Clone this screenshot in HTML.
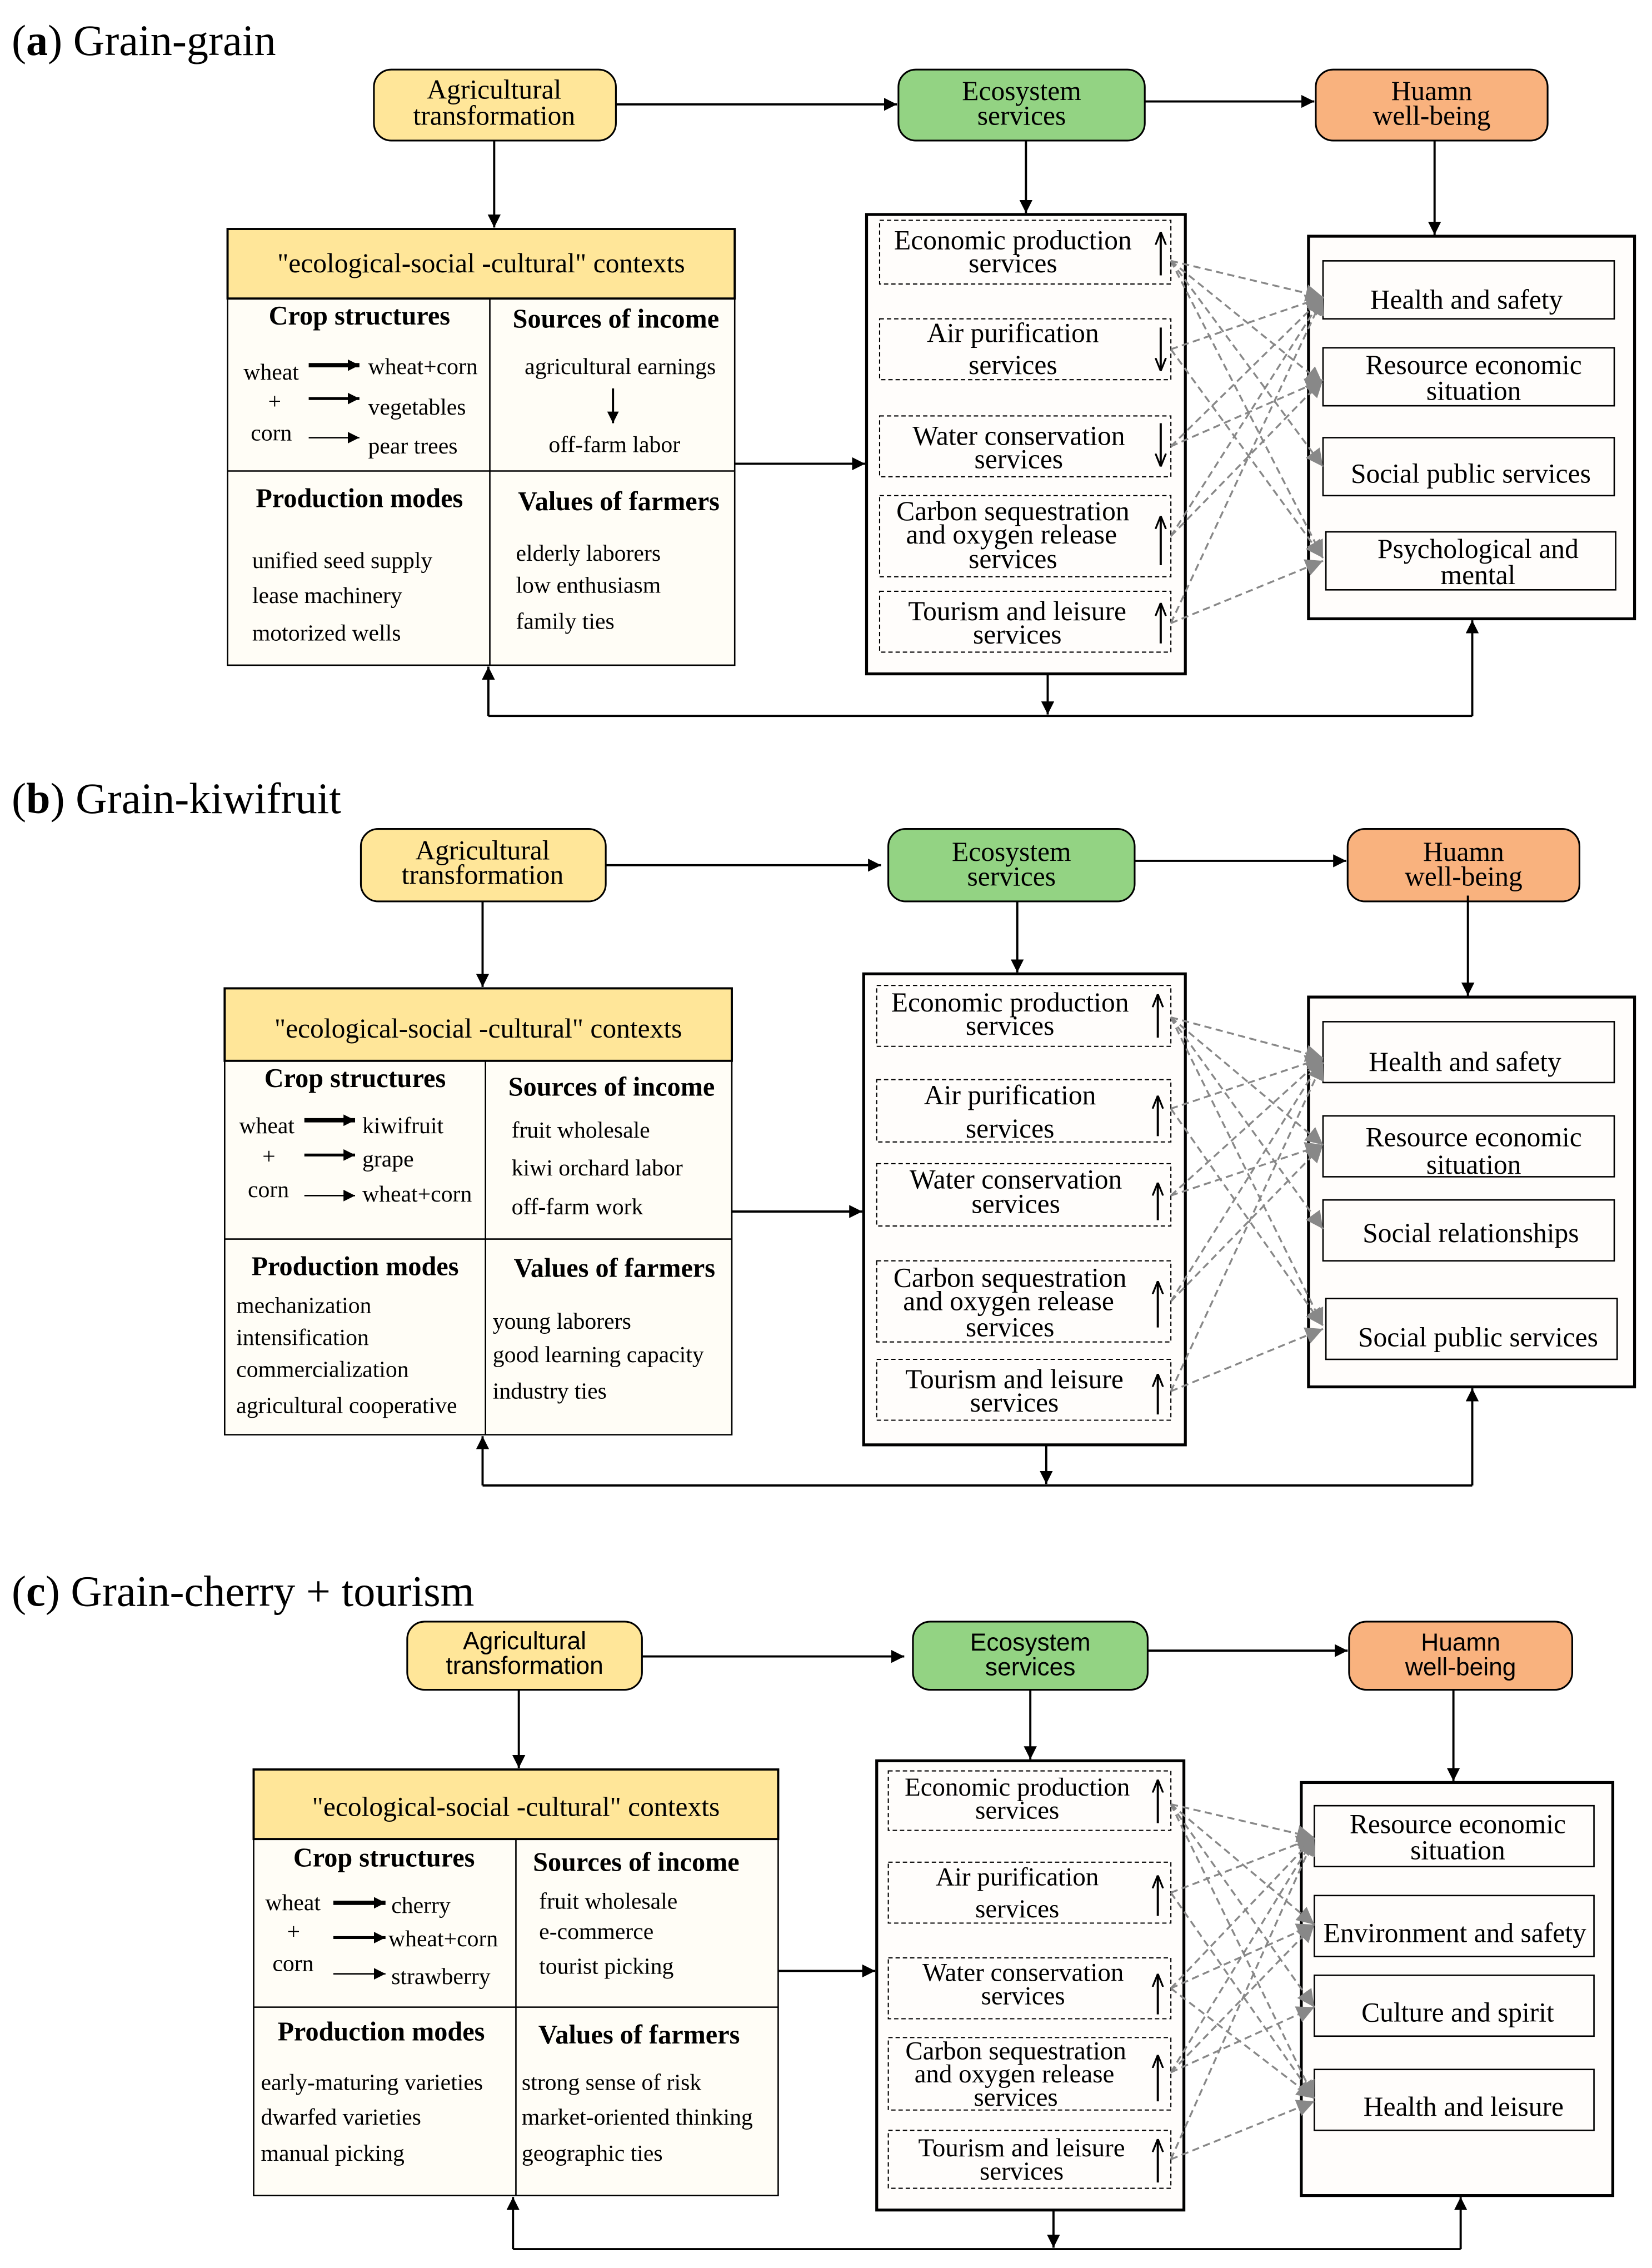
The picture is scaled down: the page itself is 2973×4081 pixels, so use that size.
<!DOCTYPE html>
<html><head><meta charset="utf-8">
<style>
html,body{margin:0;padding:0;background:#fff;}
svg{display:block;}
text{font-family:"Liberation Serif",serif;fill:#000;}
.s{font-family:"Liberation Sans",sans-serif;}
.b{font-weight:bold;}
</style></head><body>
<svg width="2973" height="4081" viewBox="0 0 1140 1565" xmlns="http://www.w3.org/2000/svg">
<defs>
<marker id="ah" viewBox="0 0 10 10" refX="10" refY="5" markerWidth="9" markerHeight="9" markerUnits="userSpaceOnUse" orient="auto"><path d="M0,0L10,5L0,10z" fill="#000"/></marker>
<marker id="as" viewBox="0 0 10 10" refX="10" refY="5" markerWidth="8" markerHeight="8" markerUnits="userSpaceOnUse" orient="auto"><path d="M0,0L10,5L0,10z" fill="#000"/></marker>
<marker id="ag" viewBox="0 0 10 10" refX="10" refY="5" markerWidth="12" markerHeight="12" markerUnits="userSpaceOnUse" orient="auto"><path d="M0,0L10,5L0,10z" fill="#888"/></marker>
<marker id="au" viewBox="0 0 10 10" refX="10" refY="5" markerWidth="9" markerHeight="9" markerUnits="userSpaceOnUse" orient="auto"><path d="M0,1L10,5L0,9" fill="none" stroke="#000" stroke-width="1.4"/></marker>
</defs>
<g stroke="#000" fill="none">

<!-- ============ PANEL A ============ -->
<rect x="258" y="48" width="167" height="49" rx="12" fill="#FFE699" stroke-width="1.2"/>
<rect x="620" y="48" width="170" height="49" rx="12" fill="#93D383" stroke-width="1.2"/>
<rect x="908" y="48" width="160" height="49" rx="12" fill="#F9B27E" stroke-width="1.2"/>
<line x1="425" y1="72" x2="619" y2="72" stroke-width="1.5" marker-end="url(#ah)"/>
<line x1="790" y1="70" x2="907" y2="70" stroke-width="1.5" marker-end="url(#ah)"/>
<line x1="341" y1="97" x2="341" y2="157" stroke-width="1.5" marker-end="url(#ah)"/>
<line x1="708" y1="97" x2="708" y2="147" stroke-width="1.5" marker-end="url(#ah)"/>
<line x1="990" y1="97" x2="990" y2="162" stroke-width="1.5" marker-end="url(#ah)"/>
<rect x="157" y="206" width="350" height="253" fill="#FFFDF6" stroke-width="1"/>
<rect x="157" y="158" width="350" height="48" fill="#FFE699" stroke-width="1.5"/>
<line x1="338" y1="206" x2="338" y2="459"/><line x1="157" y1="325" x2="507" y2="325"/>
<line x1="213" y1="252" x2="248" y2="252" stroke-width="3" marker-end="url(#as)"/>
<line x1="213" y1="275" x2="248" y2="275" stroke-width="2" marker-end="url(#as)"/>
<line x1="213" y1="302" x2="248" y2="302" stroke-width="1" marker-end="url(#as)"/>
<line x1="423" y1="268" x2="423" y2="292" stroke-width="1.5" marker-end="url(#as)"/>
<line x1="507" y1="320" x2="597" y2="320" stroke-width="1.5" marker-end="url(#ah)"/>
<rect x="598" y="148" width="220" height="317" fill="#FFFDFB" stroke-width="2"/>
<g stroke-dasharray="3 2" stroke-width="0.8">
<rect x="607" y="152" width="201" height="44"/><rect x="607" y="220" width="201" height="42"/><rect x="607" y="287" width="201" height="42"/><rect x="607" y="342" width="201" height="56"/><rect x="607" y="408" width="201" height="42"/>
</g>
<rect x="903" y="163" width="225" height="264" fill="#FFFDFB" stroke-width="2"/>
<g stroke-width="1" fill="#FFFDFB">
<rect x="913" y="180" width="201" height="40"/><rect x="913" y="240" width="201" height="40"/><rect x="913" y="302" width="201" height="40"/><rect x="915" y="367" width="200" height="40"/>
</g>
<g stroke="#888" stroke-width="1.3" stroke-dasharray="5 3" marker-end="url(#ag)">
<line x1="808" y1="180" x2="913" y2="205"/><line x1="808" y1="180" x2="913" y2="265"/><line x1="808" y1="180" x2="913" y2="322"/><line x1="808" y1="180" x2="913" y2="385"/>
<line x1="808" y1="241" x2="913" y2="205"/><line x1="808" y1="241" x2="913" y2="385"/>
<line x1="808" y1="308" x2="913" y2="205"/><line x1="808" y1="308" x2="913" y2="262"/>
<line x1="808" y1="370" x2="913" y2="205"/><line x1="808" y1="370" x2="913" y2="262"/>
<line x1="808" y1="430" x2="913" y2="205"/><line x1="808" y1="430" x2="913" y2="387"/>
</g>
<polyline points="337,494 1016,494" stroke-width="1.5"/>
<line x1="337" y1="494" x2="337" y2="460" stroke-width="1.5" marker-end="url(#ah)"/>
<line x1="1016" y1="494" x2="1016" y2="428" stroke-width="1.5" marker-end="url(#ah)"/>
<line x1="723" y1="465" x2="723" y2="493" stroke-width="1.5" marker-end="url(#ah)"/>

<!-- ============ PANEL B ============ -->
<rect x="249" y="572" width="169" height="50" rx="12" fill="#FFE699" stroke-width="1.2"/>
<rect x="613" y="572" width="170" height="50" rx="12" fill="#93D383" stroke-width="1.2"/>
<rect x="930" y="572" width="160" height="50" rx="12" fill="#F9B27E" stroke-width="1.2"/>
<line x1="418" y1="597" x2="608" y2="597" stroke-width="1.5" marker-end="url(#ah)"/>
<line x1="783" y1="594" x2="929" y2="594" stroke-width="1.5" marker-end="url(#ah)"/>
<line x1="333" y1="622" x2="333" y2="681" stroke-width="1.5" marker-end="url(#ah)"/>
<line x1="702" y1="622" x2="702" y2="671" stroke-width="1.5" marker-end="url(#ah)"/>
<line x1="1013" y1="618" x2="1013" y2="687" stroke-width="1.5" marker-end="url(#ah)"/>
<rect x="155" y="732" width="350" height="258" fill="#FFFDF6" stroke-width="1"/>
<rect x="155" y="682" width="350" height="50" fill="#FFE699" stroke-width="1.5"/>
<line x1="335" y1="732" x2="335" y2="990"/><line x1="155" y1="855" x2="505" y2="855"/>
<line x1="210" y1="773" x2="245" y2="773" stroke-width="3" marker-end="url(#as)"/>
<line x1="210" y1="797" x2="245" y2="797" stroke-width="2" marker-end="url(#as)"/>
<line x1="210" y1="825" x2="245" y2="825" stroke-width="1" marker-end="url(#as)"/>
<line x1="505" y1="836" x2="595" y2="836" stroke-width="1.5" marker-end="url(#ah)"/>
<rect x="596" y="672" width="222" height="325" fill="#FFFDFB" stroke-width="2"/>
<g stroke-dasharray="3 2" stroke-width="0.8">
<rect x="605" y="680" width="203" height="42"/><rect x="605" y="745" width="203" height="43"/><rect x="605" y="803" width="203" height="43"/><rect x="605" y="870" width="203" height="56"/><rect x="605" y="938" width="203" height="42"/>
</g>
<rect x="903" y="688" width="225" height="269" fill="#FFFDFB" stroke-width="2"/>
<g stroke-width="1" fill="#FFFDFB">
<rect x="913" y="705" width="201" height="42"/><rect x="913" y="770" width="201" height="42"/><rect x="913" y="828" width="201" height="42"/><rect x="915" y="896" width="201" height="42"/>
</g>
<g stroke="#888" stroke-width="1.3" stroke-dasharray="5 3" marker-end="url(#ag)">
<line x1="808" y1="702" x2="913" y2="730"/><line x1="808" y1="702" x2="913" y2="790"/><line x1="808" y1="702" x2="913" y2="848"/><line x1="808" y1="702" x2="913" y2="915"/>
<line x1="808" y1="765" x2="913" y2="730"/><line x1="808" y1="765" x2="913" y2="915"/>
<line x1="808" y1="825" x2="913" y2="730"/><line x1="808" y1="825" x2="913" y2="790"/>
<line x1="808" y1="898" x2="913" y2="730"/><line x1="808" y1="898" x2="913" y2="790"/>
<line x1="808" y1="960" x2="913" y2="733"/><line x1="808" y1="960" x2="913" y2="917"/>
</g>
<polyline points="333,1025 1016,1025" stroke-width="1.5"/>
<line x1="333" y1="1025" x2="333" y2="991" stroke-width="1.5" marker-end="url(#ah)"/>
<line x1="1016" y1="1025" x2="1016" y2="958" stroke-width="1.5" marker-end="url(#ah)"/>
<line x1="722" y1="997" x2="722" y2="1024" stroke-width="1.5" marker-end="url(#ah)"/>

<!-- ============ PANEL C ============ -->
<rect x="281" y="1119" width="162" height="47" rx="12" fill="#FFE699" stroke-width="1.2"/>
<rect x="630" y="1119" width="162" height="47" rx="12" fill="#93D383" stroke-width="1.2"/>
<rect x="931" y="1119" width="154" height="47" rx="12" fill="#F9B27E" stroke-width="1.2"/>
<line x1="443" y1="1143" x2="624" y2="1143" stroke-width="1.5" marker-end="url(#ah)"/>
<line x1="792" y1="1139" x2="930" y2="1139" stroke-width="1.5" marker-end="url(#ah)"/>
<line x1="358" y1="1166" x2="358" y2="1220" stroke-width="1.5" marker-end="url(#ah)"/>
<line x1="711" y1="1166" x2="711" y2="1214" stroke-width="1.5" marker-end="url(#ah)"/>
<line x1="1003" y1="1166" x2="1003" y2="1229" stroke-width="1.5" marker-end="url(#ah)"/>
<rect x="175" y="1269" width="362" height="246" fill="#FFFDF6" stroke-width="1"/>
<rect x="175" y="1221" width="362" height="48" fill="#FFE699" stroke-width="1.5"/>
<line x1="356" y1="1269" x2="356" y2="1515"/><line x1="175" y1="1385" x2="537" y2="1385"/>
<line x1="230" y1="1313" x2="266" y2="1313" stroke-width="3" marker-end="url(#as)"/>
<line x1="230" y1="1337" x2="266" y2="1337" stroke-width="2" marker-end="url(#as)"/>
<line x1="230" y1="1362" x2="266" y2="1362" stroke-width="1" marker-end="url(#as)"/>
<line x1="537" y1="1360" x2="604" y2="1360" stroke-width="1.5" marker-end="url(#ah)"/>
<rect x="605" y="1215" width="212" height="310" fill="#FFFDFB" stroke-width="2"/>
<g stroke-dasharray="3 2" stroke-width="0.8">
<rect x="613" y="1222" width="195" height="41"/><rect x="613" y="1285" width="195" height="42"/><rect x="613" y="1351" width="195" height="42"/><rect x="613" y="1406" width="195" height="50"/><rect x="613" y="1470" width="195" height="40"/>
</g>
<rect x="898" y="1230" width="215" height="285" fill="#FFFDFB" stroke-width="2"/>
<g stroke-width="1" fill="#FFFDFB">
<rect x="907" y="1246" width="193" height="42"/><rect x="907" y="1308" width="193" height="42"/><rect x="907" y="1363" width="193" height="42"/><rect x="907" y="1428" width="193" height="42"/>
</g>
<g stroke="#888" stroke-width="1.3" stroke-dasharray="5 3" marker-end="url(#ag)">
<line x1="808" y1="1245" x2="907" y2="1268"/><line x1="808" y1="1245" x2="907" y2="1328"/><line x1="808" y1="1245" x2="907" y2="1385"/><line x1="808" y1="1245" x2="907" y2="1448"/>
<line x1="808" y1="1306" x2="907" y2="1268"/><line x1="808" y1="1306" x2="907" y2="1448"/>
<line x1="808" y1="1372" x2="907" y2="1268"/><line x1="808" y1="1372" x2="907" y2="1328"/><line x1="808" y1="1372" x2="907" y2="1448"/>
<line x1="808" y1="1430" x2="907" y2="1268"/><line x1="808" y1="1430" x2="907" y2="1328"/><line x1="808" y1="1430" x2="907" y2="1385"/>
<line x1="808" y1="1490" x2="907" y2="1268"/><line x1="808" y1="1490" x2="907" y2="1450"/>
</g>
<polyline points="354,1552 1008,1552" stroke-width="1.5"/>
<line x1="354" y1="1552" x2="354" y2="1516" stroke-width="1.5" marker-end="url(#ah)"/>
<line x1="1008" y1="1552" x2="1008" y2="1516" stroke-width="1.5" marker-end="url(#ah)"/>
<line x1="727" y1="1525" x2="727" y2="1551" stroke-width="1.5" marker-end="url(#ah)"/>

<!-- trend arrows -->
<g stroke-width="1.5" marker-end="url(#au)">
<line x1="801" y1="190" x2="801" y2="160"/><line x1="801" y1="226" x2="801" y2="256"/><line x1="801" y1="292" x2="801" y2="322"/><line x1="801" y1="390" x2="801" y2="356"/><line x1="801" y1="444" x2="801" y2="416"/>
<line x1="799" y1="716" x2="799" y2="686"/><line x1="799" y1="784" x2="799" y2="756"/><line x1="799" y1="842" x2="799" y2="816"/><line x1="799" y1="916" x2="799" y2="884"/><line x1="799" y1="976" x2="799" y2="948"/>
<line x1="799" y1="1258" x2="799" y2="1228"/><line x1="799" y1="1322" x2="799" y2="1294"/><line x1="799" y1="1390" x2="799" y2="1362"/><line x1="799" y1="1450" x2="799" y2="1418"/><line x1="799" y1="1506" x2="799" y2="1476"/>
</g>
</g>

<!-- ===== TEXT ===== -->
<g font-size="30">
<text x="8" y="38">(<tspan class="b">a</tspan>) Grain-grain</text>
<text x="8" y="561">(<tspan class="b">b</tspan>) Grain-kiwifruit</text>
<text x="8" y="1108">(<tspan class="b">c</tspan>) Grain-cherry + tourism</text>
</g>
<g font-size="19" text-anchor="middle">
<text x="341" y="68">Agricultural</text><text x="341" y="86">transformation</text>
<text x="705" y="69">Ecosystem</text><text x="705" y="86">services</text>
<text x="988" y="69">Huamn</text><text x="988" y="86">well-being</text>
<text x="333" y="593">Agricultural</text><text x="333" y="610">transformation</text>
<text x="698" y="594">Ecosystem</text><text x="698" y="611">services</text>
<text x="1010" y="594">Huamn</text><text x="1010" y="611">well-being</text>
</g>
<g font-size="17" text-anchor="middle" class="s">
<text class="s" x="362" y="1138">Agricultural</text><text class="s" x="362" y="1155">transformation</text>
<text class="s" x="711" y="1139">Ecosystem</text><text class="s" x="711" y="1156">services</text>
<text class="s" x="1008" y="1139">Huamn</text><text class="s" x="1008" y="1156">well-being</text>
</g>
<g font-size="19" text-anchor="middle">
<text x="332" y="188">"ecological-social -cultural" contexts</text>
<text x="330" y="716">"ecological-social -cultural" contexts</text>
<text x="356" y="1253">"ecological-social -cultural" contexts</text>
</g>
<g font-size="18.5" class="b" text-anchor="middle">
<text class="b" x="248" y="224">Crop structures</text><text class="b" x="425" y="226">Sources of income</text>
<text class="b" x="248" y="350">Production modes</text><text class="b" x="427" y="352">Values of farmers</text>
<text class="b" x="245" y="750">Crop structures</text><text class="b" x="422" y="756">Sources of income</text>
<text class="b" x="245" y="880">Production modes</text><text class="b" x="424" y="881">Values of farmers</text>
<text class="b" x="265" y="1288">Crop structures</text><text class="b" x="439" y="1291">Sources of income</text>
<text class="b" x="263" y="1408">Production modes</text><text class="b" x="441" y="1410">Values of farmers</text>
</g>
<g font-size="16">
<text x="168" y="262">wheat</text><text x="185" y="282">+</text><text x="173" y="304">corn</text>
<text x="254" y="258">wheat+corn</text><text x="254" y="286">vegetables</text><text x="254" y="313">pear trees</text>
<text x="428" y="258" text-anchor="middle">agricultural earnings</text><text x="424" y="312" text-anchor="middle">off-farm labor</text>
<text x="174" y="392">unified seed supply</text><text x="174" y="416">lease machinery</text><text x="174" y="442">motorized wells</text>
<text x="356" y="387">elderly laborers</text><text x="356" y="409">low enthusiasm</text><text x="356" y="434">family ties</text>

<text x="165" y="782">wheat</text><text x="181" y="803">+</text><text x="171" y="826">corn</text>
<text x="250" y="782">kiwifruit</text><text x="250" y="805">grape</text><text x="250" y="829">wheat+corn</text>
<text x="353" y="785">fruit wholesale</text><text x="353" y="811">kiwi orchard labor</text><text x="353" y="838">off-farm work</text>
<text x="163" y="906">mechanization</text><text x="163" y="928">intensification</text><text x="163" y="950">commercialization</text><text x="163" y="975">agricultural cooperative</text>
<text x="340" y="917">young laborers</text><text x="340" y="940">good learning capacity</text><text x="340" y="965">industry  ties</text>

<text x="183" y="1318">wheat</text><text x="198" y="1338">+</text><text x="188" y="1360">corn</text>
<text x="270" y="1320">cherry</text><text x="268" y="1343">wheat+corn</text><text x="270" y="1369">strawberry</text>
<text x="372" y="1317">fruit wholesale</text><text x="372" y="1338">e-commerce</text><text x="372" y="1362">tourist picking</text>
<text x="180" y="1442">early-maturing varieties</text><text x="180" y="1466">dwarfed varieties</text><text x="180" y="1491">manual picking</text>
<text x="360" y="1442">strong sense of risk</text><text x="360" y="1466">market-oriented thinking</text><text x="360" y="1491">geographic ties</text>
</g>
<g font-size="19" text-anchor="middle">
<text x="699" y="172">Economic production</text><text x="699" y="188">services</text>
<text x="699" y="236">Air purification</text><text x="699" y="258">services</text>
<text x="703" y="307">Water conservation</text><text x="703" y="323">services</text>
<text x="699" y="359">Carbon sequestration</text><text x="698" y="375">and oxygen release</text><text x="699" y="392">services</text>
<text x="702" y="428">Tourism and leisure</text><text x="702" y="444">services</text>

<text x="697" y="698">Economic production</text><text x="697" y="714">services</text>
<text x="697" y="762">Air purification</text><text x="697" y="785">services</text>
<text x="701" y="820">Water conservation</text><text x="701" y="837">services</text>
<text x="697" y="888">Carbon sequestration</text><text x="696" y="904">and oxygen release</text><text x="697" y="922">services</text>
<text x="700" y="958">Tourism and leisure</text><text x="700" y="974">services</text>
</g>
<g font-size="18" text-anchor="middle">
<text x="702" y="1239">Economic production</text><text x="702" y="1255">services</text>
<text x="702" y="1301">Air purification</text><text x="702" y="1323">services</text>
<text x="706" y="1367">Water conservation</text><text x="706" y="1383">services</text>
<text x="701" y="1421">Carbon sequestration</text><text x="700" y="1437">and oxygen release</text><text x="701" y="1453">services</text>
<text x="705" y="1488">Tourism and leisure</text><text x="705" y="1504">services</text>
</g>
<g font-size="19" text-anchor="middle">
<text x="1012" y="213">Health and safety</text>
<text x="1017" y="258">Resource economic</text><text x="1017" y="276">situation</text>
<text x="1015" y="333">Social public services</text>
<text x="1020" y="385">Psychological and</text><text x="1020" y="403">mental</text>

<text x="1011" y="739">Health and safety</text>
<text x="1017" y="791">Resource economic</text><text x="1017" y="810">situation</text>
<text x="1015" y="857">Social relationships</text>
<text x="1020" y="929">Social public services</text>

<text x="1006" y="1265">Resource economic</text><text x="1006" y="1283">situation</text>
<text x="1004" y="1340">Environment and safety</text>
<text x="1006" y="1395">Culture and spirit</text>
<text x="1010" y="1460">Health and leisure</text>
</g>
</svg>
</body></html>
